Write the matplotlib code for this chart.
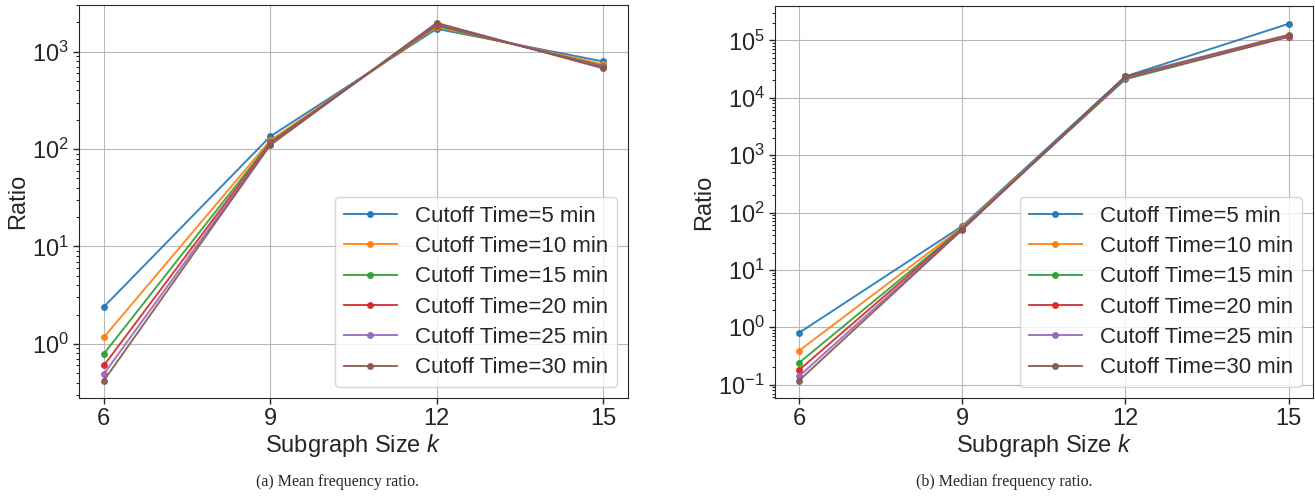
import matplotlib
matplotlib.use("Agg")
import matplotlib.pyplot as plt

plt.rcParams["font.family"] = ["Liberation Sans", "DejaVu Sans"]
plt.rcParams["mathtext.fontset"] = "custom"
plt.rcParams["mathtext.rm"] = "Liberation Sans"
plt.rcParams["mathtext.it"] = "Liberation Sans:italic"
plt.rcParams["text.color"] = ".15"
plt.rcParams["axes.labelcolor"] = ".15"
plt.rcParams["xtick.color"] = ".15"
plt.rcParams["ytick.color"] = ".15"
plt.rcParams["axes.edgecolor"] = ".15"

k = [6, 9, 12, 15]
cutoffs = [5, 10, 15, 20, 25, 30]

# mean frequency ratio, one list per cutoff time
mean_5 = [2.4, 135, 1720, 795]
mean_10 = [1.17, 123, 1800, 745]
mean_15 = [0.79, 118, 1850, 715]
mean_20 = [0.60, 115, 1900, 700]
mean_25 = [0.49, 112, 1940, 690]
mean_30 = [0.42, 110, 1980, 675]

# median frequency ratio
med_5 = [0.80, 58, 23500, 194000]
med_10 = [0.39, 55, 22000, 118000]
med_15 = [0.24, 53, 21000, 115000]
med_20 = [0.18, 52, 22000, 116000]
med_25 = [0.14, 51, 22500, 120000]
med_30 = [0.118, 50, 23500, 125000]

mean_vals = [mean_5, mean_10, mean_15, mean_20, mean_25, mean_30]
med_vals = [med_5, med_10, med_15, med_20, med_25, med_30]

fig = plt.figure(figsize=(13.15, 4.98), dpi=100)
ax1 = fig.add_axes([0.060, 0.200, 0.4176, 0.790])
ax2 = fig.add_axes([0.5890, 0.200, 0.4095, 0.788])

for ax, data in [(ax1, mean_vals), (ax2, med_vals)]:
    for c, v in zip(cutoffs, data):
        ax.plot(k, v, "-o", ms=4, lw=1.4, alpha=0.9, label=f"Cutoff Time={c} min")
    ax.set_yscale("log")
    ax.set_xticks(k)
    ax.grid(True, which="major", color="#b8b8b8", lw=0.8)
    ax.tick_params(which="major", labelsize=17, length=4, width=1, pad=3)
    ax.tick_params(which="minor", length=2.5, width=0.8)
    ax.set_xlabel("Subgraph Size $k$", fontsize=17, labelpad=1)
    ax.set_ylabel("Ratio", fontsize=17, labelpad=2)
    ax.legend(loc="lower right", fontsize=16, handlelength=2.4,
              labelspacing=0.42, borderaxespad=0.5)

fig.text(0.257, 0.032, "(a) Mean frequency ratio.", ha="center", va="center",
         fontsize=11.5, family=["Liberation Serif"])
fig.text(0.764, 0.032, "(b) Median frequency ratio.", ha="center", va="center",
         fontsize=11.5, family=["Liberation Serif"])

fig.savefig("out.png", dpi=100)
